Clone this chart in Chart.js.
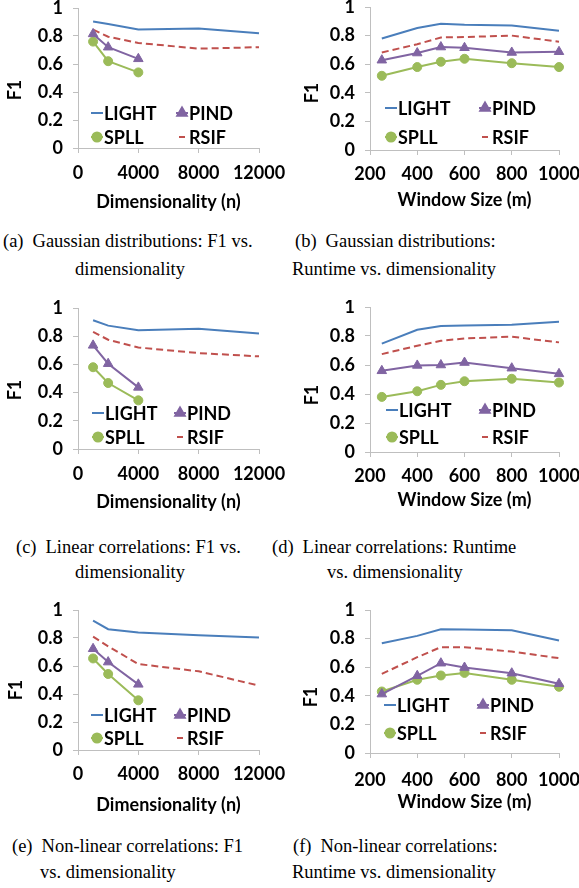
<!DOCTYPE html>
<html>
<head>
<meta charset="utf-8">
<script src="https://cdn.jsdelivr.net/npm/chart.js@4.4.1/dist/chart.umd.min.js"></script>
<style>
body { margin: 0; width: 579px; height: 888px; position: relative; overflow: hidden; background: #fff; }
canvas { position: absolute; }
.cap { position: absolute; font-family: "Liberation Serif", "Times New Roman", serif; font-size: 18.5px; line-height: 1; white-space: nowrap; color: #000; }
.cap .lb { margin-right: 9px; }
</style>
</head>
<body>
<script>
// x-Werte
const dims = [1000, 2000, 4000, 8000, 12000];
const windows = [250, 400, 500, 600, 800, 1000];

// Achsenbeschriftungen
const dimTicks = [0, 4000, 8000, 12000];
const windowTicks = [200, 400, 600, 800, 1000];
const f1Ticks = [0, 0.2, 0.4, 0.6, 0.8, 1];

const seriesNames = ['LIGHT', 'PIND', 'SPLL', 'RSIF'];

// (a) Gaussian, F1 vs. Dimensionality
const gaussDimLight = [0.903, 0.885, 0.846, 0.853, 0.82];
const gaussDimPind = [0.815, 0.72, 0.637];
const gaussDimSpll = [0.76, 0.62, 0.54];
const gaussDimRsif = [0.845, 0.795, 0.75, 0.71, 0.72];

// (b) Gaussian, F1 vs. Window Size
const gaussWinLight = [0.78, 0.853, 0.883, 0.876, 0.87, 0.834];
const gaussWinPind = [0.628, 0.678, 0.72, 0.715, 0.682, 0.687];
const gaussWinSpll = [0.519, 0.58, 0.617, 0.638, 0.607, 0.58];
const gaussWinRsif = [0.682, 0.74, 0.787, 0.79, 0.8, 0.757];

// (c) Linear, F1 vs. Dimensionality
const linDimLight = [0.913, 0.875, 0.842, 0.853, 0.82];
const linDimPind = [0.735, 0.605, 0.437];
const linDimSpll = [0.58, 0.468, 0.345];
const linDimRsif = [0.83, 0.775, 0.72, 0.68, 0.657];

// (d) Linear, F1 vs. Window Size
const linWinLight = [0.747, 0.843, 0.869, 0.873, 0.878, 0.899];
const linWinPind = [0.56, 0.597, 0.6, 0.617, 0.578, 0.539];
const linWinSpll = [0.38, 0.419, 0.463, 0.488, 0.505, 0.479];
const linWinRsif = [0.675, 0.733, 0.767, 0.783, 0.795, 0.756];

// (e) Non-linear, F1 vs. Dimensionality
const nlDimLight = [0.924, 0.863, 0.839, 0.82, 0.803];
const nlDimPind = [0.723, 0.628, 0.469];
const nlDimSpll = [0.654, 0.543, 0.355];
const nlDimRsif = [0.81, 0.74, 0.614, 0.562, 0.46];

// (f) Non-linear, F1 vs. Window Size
const nlWinLight = [0.767, 0.819, 0.865, 0.863, 0.858, 0.786];
const nlWinPind = [0.412, 0.54, 0.628, 0.598, 0.558, 0.484];
const nlWinSpll = [0.43, 0.512, 0.542, 0.56, 0.512, 0.463];
const nlWinRsif = [0.553, 0.67, 0.74, 0.74, 0.709, 0.663];

const styles = [
    { color: '#4a7ebb', dash: [], point: false, radius: 0 },
    { color: '#8064a2', dash: [], point: 'triangle', radius: 5.5 },
    { color: '#9bbb59', dash: [], point: 'circle', radius: 4.5 },
    { color: '#c0504d', dash: [7, 4], point: false, radius: 0 }
];

const H = 220;
const FONT = 'Lato';
const panels = [
    { x: 0,   y: 0,   w: 290, area: [78, 8, 259, 148], xv: dims, xt: dimTicks, title: 'Dimensionality (n)', tY: 201.7, tickOff: 25, yT: [15, 90], leg: [19, 104, -35, -11],
      data: [gaussDimLight, gaussDimPind, gaussDimSpll, gaussDimRsif] },
    { x: 290, y: 0,   w: 289, area: [80, 7, 269, 150], xv: windows, xt: windowTicks, title: 'Window Size (m)', tY: 200, tickOff: 24, yT: [22, 93], leg: [21, 115, -42, -13],
      data: [gaussWinLight, gaussWinPind, gaussWinSpll, gaussWinRsif] },
    { x: 0,   y: 300, w: 290, area: [78, 8, 259, 149], xv: dims, xt: dimTicks, title: 'Dimensionality (n)', tY: 201.7, tickOff: 25, yT: [15, 90], leg: [20, 102, -36, -12],
      data: [linDimLight, linDimPind, linDimSpll, linDimRsif] },
    { x: 290, y: 300, w: 289, area: [80, 7, 269, 152], xv: windows, xt: windowTicks, title: 'Window Size (m)', tY: 200, tickOff: 24, yT: [22, 95], leg: [22, 115, -42, -15],
      data: [linWinLight, linWinPind, linWinSpll, linWinRsif] },
    { x: 0,   y: 600, w: 290, area: [78, 10, 259, 150], xv: dims, xt: dimTicks, title: 'Dimensionality (n)', tY: 205, tickOff: 24, yT: [16, 90], leg: [19, 102, -35, -12],
      data: [nlDimLight, nlDimPind, nlDimSpll, nlDimRsif] },
    { x: 290, y: 600, w: 289, area: [80, 10, 269, 153], xv: windows, xt: windowTicks, title: 'Window Size (m)', tY: 201.7, tickOff: 27, yT: [21, 97], leg: [20, 113, -48, -20],
      data: [nlWinLight, nlWinPind, nlWinSpll, nlWinRsif] }
];

const captions = [
    [3, 241.7, '<span class="lb">(a)</span>Gaussian distributions: F1 vs.'],
    [75, 270, 'dimensionality'],
    [295, 241.7, '<span class="lb">(b)</span>Gaussian distributions:'],
    [292, 270, 'Runtime vs. dimensionality'],
    [16, 548, '<span class="lb">(c)</span>Linear correlations: F1 vs.'],
    [75, 573, 'dimensionality'],
    [272, 548, '<span class="lb">(d)</span>Linear correlations: Runtime'],
    [327, 573, 'vs. dimensionality'],
    [12, 846.7, '<span class="lb">(e)</span>Non-linear correlations: F1'],
    [40, 873, 'vs. dimensionality'],
    [293, 846.7, '<span class="lb">(f)</span>Non-linear correlations:'],
    [292, 873, 'Runtime vs. dimensionality']
];

captions.forEach(([left, yc, html]) => {
    const d = document.createElement('div');
    d.className = 'cap';
    d.style.left = left + 'px';
    d.style.top = (yc - 10) + 'px';
    d.innerHTML = html;
    document.body.appendChild(d);
});

// Legende (2x2 im Plotbereich) und y-Titel
const panelDeco = {
    id: 'panelDeco',
    afterDraw(chart, args, opts) {
        const ctx = chart.ctx;
        const a = chart.chartArea;
        ctx.save();
        ctx.font = 'bold 18px ' + FONT;
        ctx.textBaseline = 'middle';
        ctx.textAlign = 'left';
        chart.data.datasets.forEach((ds, i) => {
            const cx = a.left + opts.leg[i % 2];
            const cy = a.bottom + opts.leg[2 + Math.floor(i / 2)];
            ctx.strokeStyle = ds.borderColor;
            ctx.lineWidth = 2;
            ctx.beginPath();
            if (ds.borderDash.length) {
                ctx.moveTo(cx - 3, cy); ctx.lineTo(cx + 3, cy);
            } else {
                ctx.moveTo(cx - 6, cy); ctx.lineTo(cx + 6, cy);
            }
            ctx.stroke();
            if (ds.pointStyle && ds.pointRadius > 0) {
                ctx.fillStyle = ds.pointBackgroundColor;
                Chart.helpers.drawPoint(ctx, { pointStyle: ds.pointStyle, radius: ds.pointRadius, rotation: 0, borderWidth: 1 }, cx, cy);
            }
            ctx.fillStyle = '#000';
            ctx.fillText(ds.label, cx + 7, cy + 1);
        });
        ctx.font = 'bold 18px ' + FONT;
        ctx.translate(opts.yT[0], opts.yT[1]);
        ctx.rotate(-Math.PI / 2);
        ctx.textAlign = 'center';
        ctx.fillText('F1', 0, 0);
        ctx.restore();
    }
};

const tickFont = { family: FONT, weight: 'bold', size: 18 };

panels.forEach((p) => {
    const cv = document.createElement('canvas');
    cv.width = p.w;
    cv.height = H;
    cv.style.left = p.x + 'px';
    cv.style.top = p.y + 'px';
    cv.style.width = p.w + 'px';
    cv.style.height = H + 'px';
    document.body.appendChild(cv);

    const [al, at, ar, ab] = p.area;
    const datasets = p.data.map((vals, i) => ({
        label: seriesNames[i],
        data: vals.map((v, k) => ({ x: p.xv[k], y: v })),
        borderColor: styles[i].color,
        backgroundColor: styles[i].color,
        borderDash: styles[i].dash,
        borderWidth: 2,
        pointStyle: styles[i].point,
        pointRadius: styles[i].radius,
        pointBackgroundColor: styles[i].color,
        pointBorderColor: styles[i].color,
        pointBorderWidth: 1,
        tension: 0,
        clip: false
    }));

    new Chart(cv, {
        type: 'line',
        data: { datasets: datasets },
        plugins: [panelDeco],
        options: {
            responsive: false,
            animation: false,
            devicePixelRatio: 1,
            layout: { padding: { left: 0, top: at, right: p.w - ar, bottom: 0 } },
            plugins: {
                legend: { display: false },
                tooltip: { enabled: false },
                panelDeco: { leg: p.leg, yT: p.yT }
            },
            scales: {
                x: {
                    type: 'linear',
                    min: p.xt[0],
                    max: p.xt[p.xt.length - 1],
                    afterBuildTicks: (s) => { s.ticks = p.xt.map(v => ({ value: v })); },
                    afterFit: (s) => { s.height = H - ab; s.paddingLeft = 0; s.paddingRight = 0; },
                    grid: { drawOnChartArea: false, tickLength: 5, color: '#bfbfbf' },
                    border: { color: '#bfbfbf' },
                    ticks: { color: '#000', font: tickFont, padding: p.tickOff - 15.8, maxRotation: 0, autoSkip: false, callback: (v) => String(v) },
                    title: { display: true, text: p.title, color: '#000', font: { family: FONT, weight: 'bold', size: 18 }, padding: { top: 0, bottom: H - p.tY - 10.8 } }
                },
                y: {
                    min: 0,
                    max: 1,
                    afterBuildTicks: (s) => { s.ticks = f1Ticks.map(v => ({ value: v })); },
                    afterFit: (s) => { s.width = al; s.paddingTop = 0; s.paddingBottom = 0; },
                    grid: { drawOnChartArea: false, tickLength: 5, color: '#bfbfbf' },
                    border: { color: '#bfbfbf' },
                    ticks: { color: '#000', font: tickFont, padding: 10, callback: (v) => String(v) }
                }
            }
        }
    });
});
</script>
</body>
</html>
